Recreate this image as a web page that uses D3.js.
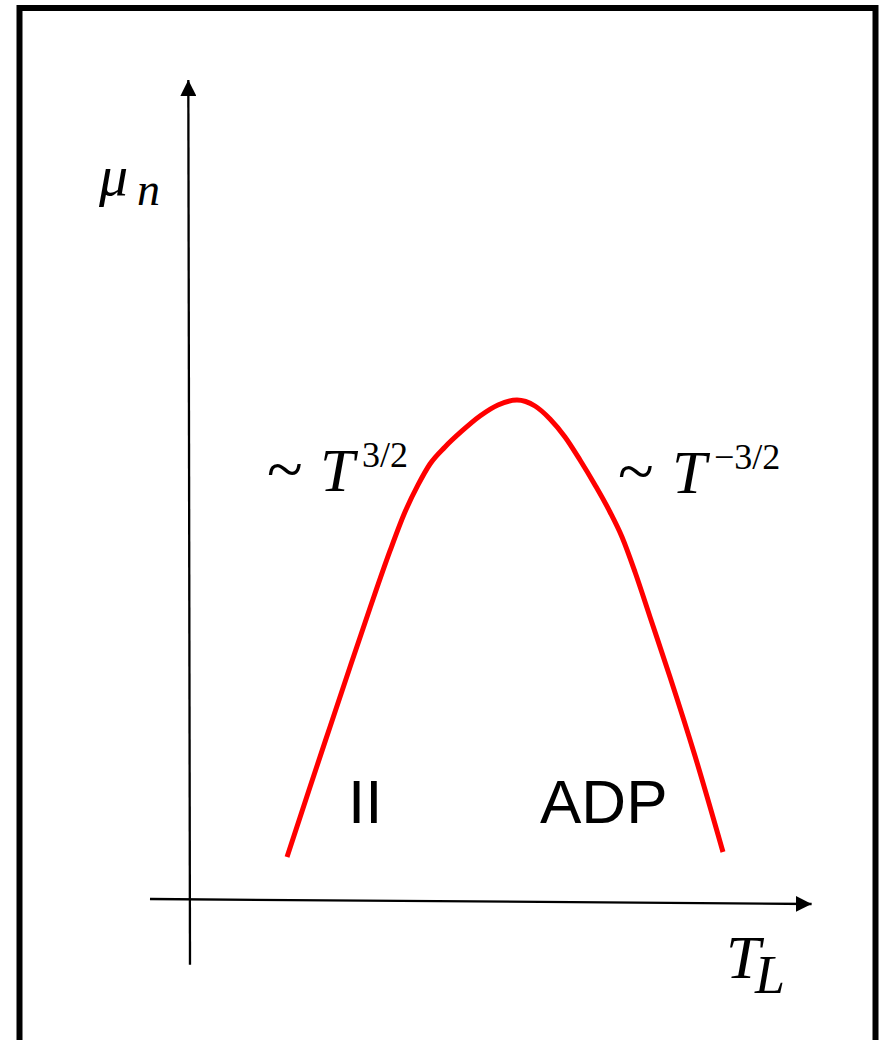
<!DOCTYPE html>
<html>
<head>
<meta charset="utf-8">
<script src="https://cdn.jsdelivr.net/npm/d3@7/dist/d3.min.js"></script>
<style>
  html, body { margin: 0; padding: 0; background: #fff; }
  svg { display: block; }
  .serif { font-family: "Liberation Serif", "Times New Roman", serif; fill: #000; }
  .sans { font-family: "Liberation Sans", Arial, sans-serif; fill: #000; }
</style>
</head>
<body>
<script>
// Mobility vs lattice temperature (schematic)
const temperature = [16.17, 20.0, 23.33, 26.67, 30.0, 33.33, 35.83, 38.0, 40.0, 42.5, 45.33, 48.33, 51.33,
                     54.5, 57.5, 60.0, 62.5, 65.0, 67.5, 70.0, 72.0, 74.17, 76.67, 80.0, 84.17, 88.83];
const mobility    = [5.38, 14.13, 21.63, 29.13, 36.5, 43.63, 48.5, 51.88, 54.5, 56.63, 58.63, 60.5, 61.88,
                     62.5, 61.75, 60.13, 57.88, 55.0, 51.88, 48.5, 45.38, 41.0, 35.38, 27.88, 18.0, 6.0];

// axis line end points, in data units [T, mu]
const yAxisEnds = [[0, -8.1], [-0.28, 102.5]];
const xAxisEnds = [[-6.67, 0.125], [103.6, -0.5]];

const W = 881, H = 1040;
const svg = d3.select("body").append("svg").attr("width", W).attr("height", H);

const x = d3.scaleLinear().domain([0, 100]).range([190, 790]);
const y = d3.scaleLinear().domain([0, 100]).range([900, 100]);

// outer frame
svg.append("rect")
  .attr("x", 19.5).attr("y", 8)
  .attr("width", 856).attr("height", 1060)
  .attr("fill", "none").attr("stroke", "#000").attr("stroke-width", 6);

// arrow head
const defs = svg.append("defs");
defs.append("marker")
  .attr("id", "arrow")
  .attr("markerUnits", "userSpaceOnUse")
  .attr("viewBox", "0 0 16 16")
  .attr("refX", 16).attr("refY", 8)
  .attr("markerWidth", 16).attr("markerHeight", 16)
  .attr("orient", "auto")
  .append("path").attr("d", "M0,0 L16,8 L0,16 Z").attr("fill", "#000");

const axisLine = d3.line().x(d => x(d[0])).y(d => y(d[1]));
svg.append("path").attr("d", axisLine(yAxisEnds))
  .attr("stroke", "#000").attr("stroke-width", 2.3).attr("fill", "none")
  .attr("marker-end", "url(#arrow)");
svg.append("path").attr("d", axisLine(xAxisEnds))
  .attr("stroke", "#000").attr("stroke-width", 2.3).attr("fill", "none")
  .attr("marker-end", "url(#arrow)");

// mobility curve
const curve = d3.line()
  .x((d, i) => x(temperature[i]))
  .y((d, i) => y(mobility[i]))
  .curve(d3.curveMonotoneX);
svg.append("path").attr("d", curve(mobility))
  .attr("fill", "none").attr("stroke", "#ff0000").attr("stroke-width", 5)
  .attr("stroke-linecap", "butt").attr("stroke-linejoin", "round");

// axis titles
const mu = svg.append("text").attr("class", "serif").attr("x", 99).attr("y", 195);
mu.append("tspan").attr("font-style", "italic").attr("font-size", 58).text("μ");
mu.append("tspan").attr("font-style", "italic").attr("font-size", 46)
  .attr("x", 137).attr("y", 205).text("n");

const tl = svg.append("text").attr("class", "serif").attr("x", 726).attr("y", 978);
tl.append("tspan").attr("font-style", "italic").attr("font-size", 62).text("T");
tl.append("tspan").attr("font-style", "italic").attr("font-size", 54)
  .attr("x", 755).attr("y", 993).text("L");

// slope annotations
function powerLabel(x0, tx, sx, base, sup) {
  const t = svg.append("text").attr("class", "serif").attr("x", x0).attr("y", base);
  t.append("tspan").attr("font-size", 66).text("~");
  t.append("tspan").attr("x", tx).attr("font-style", "italic").attr("font-size", 62).text("T");
  t.append("tspan").attr("x", sx).attr("y", base - 24).attr("font-size", 36).text(sup);
}
powerLabel(267, 320, 362, 491, "3/2");
powerLabel(618, 672, 714, 493, "\u22123/2");

// scattering mechanism labels
svg.append("text").attr("class", "sans").attr("x", 348).attr("y", 823)
  .attr("font-size", 62).text("II");
svg.append("text").attr("class", "sans").attr("x", 540).attr("y", 823)
  .attr("font-size", 62).text("ADP");
</script>
</body>
</html>
